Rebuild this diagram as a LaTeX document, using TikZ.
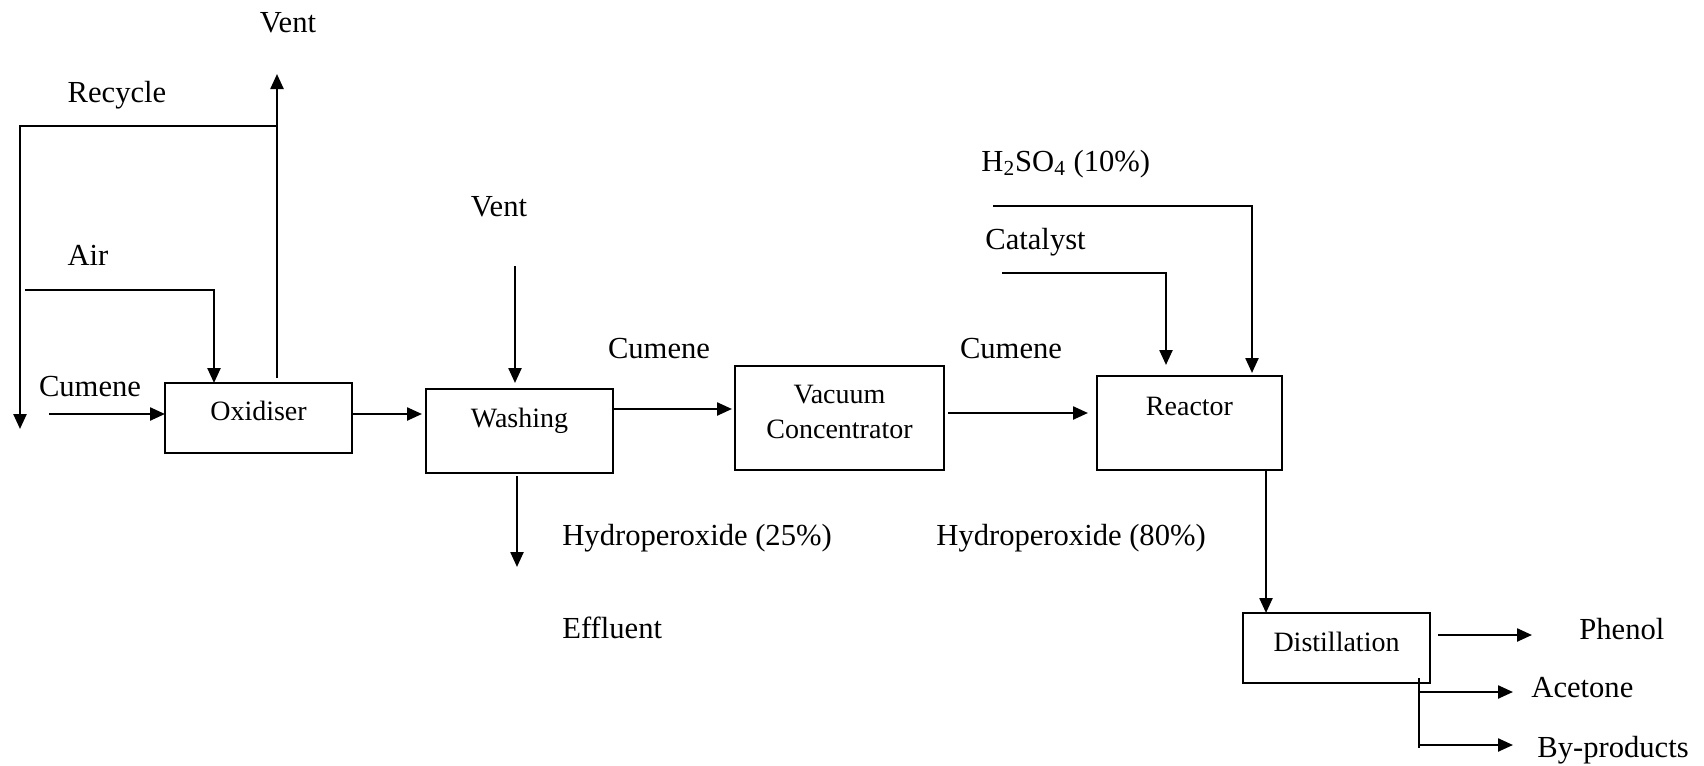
\documentclass[tikz,border=0pt]{standalone}
\usepackage{fontspec}
\setmainfont{Liberation Serif}
\usetikzlibrary{arrows.meta}
\begin{document}
\begin{tikzpicture}[x=0.5pt,y=-0.5pt,
  flow/.style={line width=1.2pt},
  arr/.style={flow,-{Triangle[length=7.5pt,width=6.5pt]}},
  unit/.style={draw,line width=1.2pt,inner sep=0pt,outer sep=0pt},
  unitlbl/.style={font=\fontsize{14}{17.5}\selectfont,inner sep=0pt},
  tag/.style={font=\fontsize{15.3}{18}\selectfont,inner sep=0pt,text height=0.7em,text depth=0.2em}
]
\useasboundingbox (0,0) rectangle (1704,766);

% process units
\node[unit,minimum width=93.5pt,minimum height=35pt,
  label={[unitlbl,yshift=3.5pt]center:Oxidiser}] (ox) at (258.5,418) {};
\node[unit,minimum width=93.5pt,minimum height=42pt,
  label={[unitlbl,yshift=5pt]center:Washing}] (wash) at (519.5,431) {};
\node[unit,minimum width=104.5pt,minimum height=52pt,
  label={[unitlbl,yshift=3pt,align=center]center:{Vacuum\\Concentrator}}] (vc) at (839.5,418) {};
\node[unit,minimum width=92.5pt,minimum height=47pt,
  label={[unitlbl,yshift=8.5pt]center:Reactor}] (rx) at (1189.5,423) {};
\node[unit,minimum width=93.5pt,minimum height=35pt,
  label={[unitlbl,yshift=3pt]center:Distillation}] (dist) at (1336.5,648) {};

% stream labels
\node[tag] (vent1) at (288,27) {Vent};
\node[tag] (recycle) at (117,97) {Recycle};
\node[tag] (air) at (88,260) {Air};
\node[tag] (cum1) at (90,391) {Cumene};
\node[tag] (vent2) at (499,211) {Vent};
\node[tag] (cum2) at (659,353) {Cumene};
\node[tag,anchor=west] (hp25) at (562,540) {Hydroperoxide (25\%)};
\node[tag,anchor=west] (eff) at (562,633) {Effluent};
\node[tag] (cum3) at (1011,353) {Cumene};
\node[tag,anchor=west] (acid) at (981,166) {H\textsubscript{2}SO\textsubscript{4} (10\%)};
\node[tag,anchor=west] (cat) at (985,244) {Catalyst};
\node[tag,anchor=west] (hp80) at (936,540) {Hydroperoxide (80\%)};
\node[tag,anchor=west] (phenol) at (1579,634) {Phenol};
\node[tag,anchor=west] (acetone) at (1531,692) {Acetone};
\node[tag,anchor=west] (byp) at (1537,752) {By-products};

% free stream ends
\coordinate (cumfeed) at (49,414);
\coordinate (airfeed) at (25,290);
\coordinate (airdrop) at (214,290);
\coordinate (venttop) at (277,74);
\coordinate (recyclejoin) at (277,126);
\coordinate (recyclecorner) at (20,126);
\coordinate (recycleend) at (20,429);
\coordinate (vent2top) at (515,266);
\coordinate (effend) at (517,567);
\coordinate (acidin) at (993,206);
\coordinate (acidturn) at (1252,206);
\coordinate (catin) at (1002,273);
\coordinate (catturn) at (1166,273);
\coordinate (phenolend) at (1532,635);
\coordinate (branchtop) at (1419,678);
\coordinate (branchfoot) at (1419,748);
\coordinate (acetend) at (1513,692);
\coordinate (bypend) at (1513,745);

% oxidiser section
\draw[arr] (cumfeed) -- (cumfeed -| ox.west);
\draw[arr] (airfeed) -- (airdrop) -- (airdrop |- ox.north);
\draw[arr,shorten <=2.5pt] (ox.north -| venttop) -- (venttop);
\draw[arr] (recyclejoin) -- (recyclecorner) -- (recycleend);
\draw[arr,shorten >=2pt] ([yshift=2pt]ox.east) -- ([yshift=2pt]ox.east -| wash.west);

% washing and concentration
\draw[arr,shorten >=3pt] (vent2top) -- (vent2top |- wash.north);
\draw[arr,shorten <=1.5pt] (effend |- wash.south) -- (effend);
\draw[arr,shorten >=1.5pt] (wash.east |- 0,409) -- (vc.west |- 0,409);
\draw[arr,shorten <=2pt,shorten >=4.5pt] (vc.east |- 0,413) -- (rx.west |- 0,413);

% reactor feeds
\draw[arr,shorten >=1.5pt] (acidin) -- (acidturn) -- (acidturn |- rx.north);
\draw[arr,shorten >=5.5pt] (catin) -- (catturn) -- (catturn |- rx.north);
\draw[arr] (rx.south -| 1266,0) -- (dist.north -| 1266,0);

% distillation products
\draw[arr,shorten <=4pt] (dist.east |- phenolend) -- (phenolend);
\draw[flow] (branchtop) -- (branchfoot);
\draw[arr] (branchtop |- acetend) -- (acetend);
\draw[arr] (branchtop |- bypend) -- (bypend);
\end{tikzpicture}
\end{document}
